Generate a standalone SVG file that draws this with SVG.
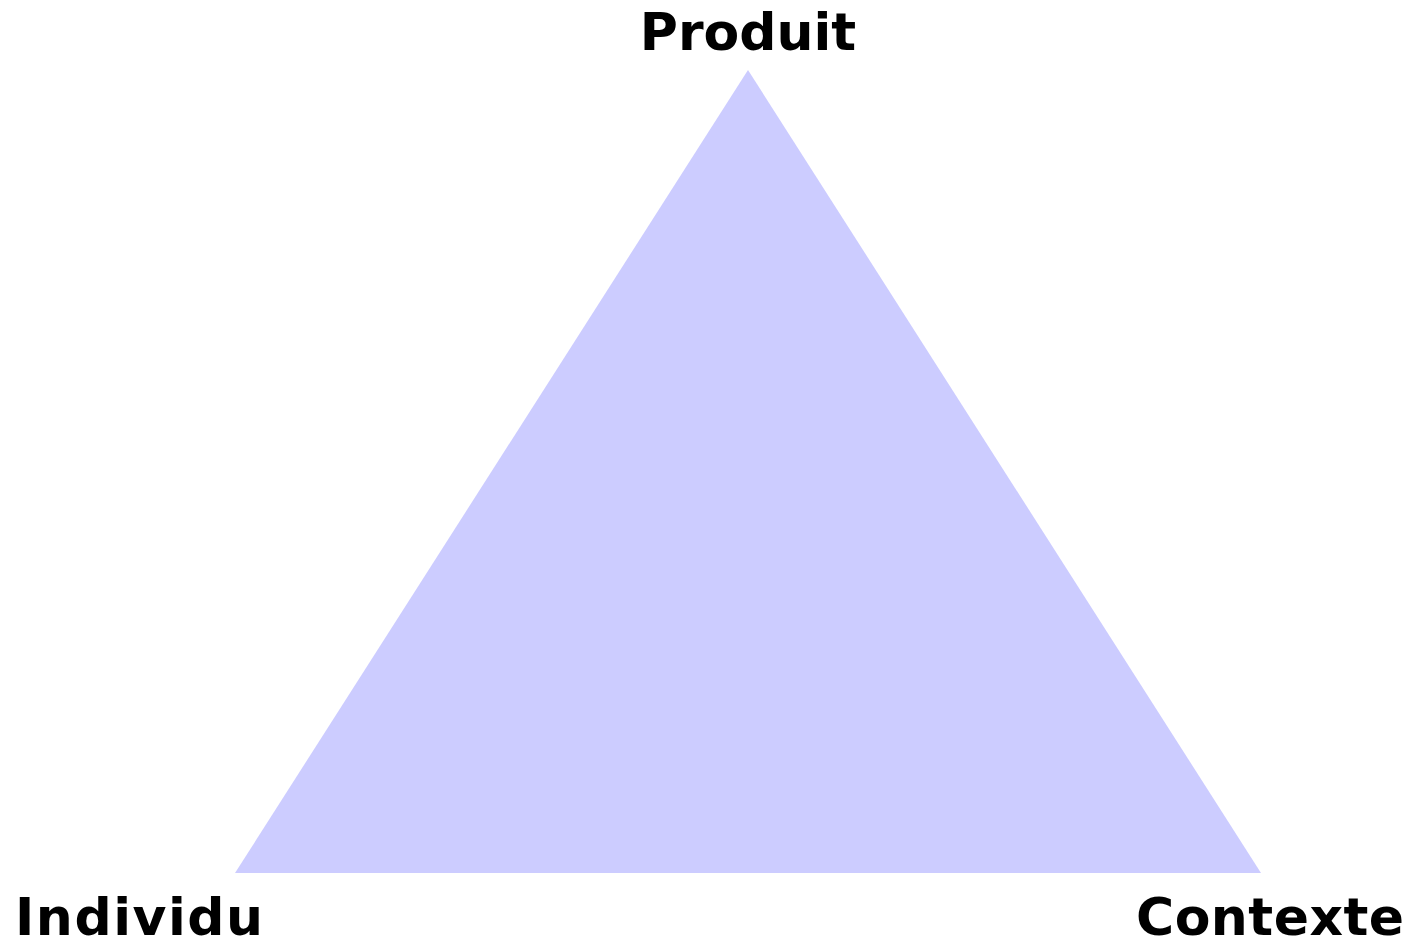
<svg xmlns="http://www.w3.org/2000/svg" width="1413" height="941" viewBox="0 0 1413 941">
<style>
.lbl{font-family:"DejaVu Sans","Liberation Sans",sans-serif;font-weight:bold;font-size:52px;fill:#000}
</style>
<rect width="1413" height="941" fill="#fff"/>
<g id="triangle">
<polygon points="748,70 235,873 1261,873" fill="#ccccff"/>
</g>
<g id="connectors"></g>
<g id="node-produit"><text class="lbl" x="748" y="50" text-anchor="middle">Produit</text></g>
<g id="node-individu"><text class="lbl" x="15" y="935" textLength="248" lengthAdjust="spacing">Individu</text></g>
<g id="node-contexte"><text class="lbl" x="1136" y="935" textLength="268" lengthAdjust="spacing">Contexte</text></g>
</svg>
